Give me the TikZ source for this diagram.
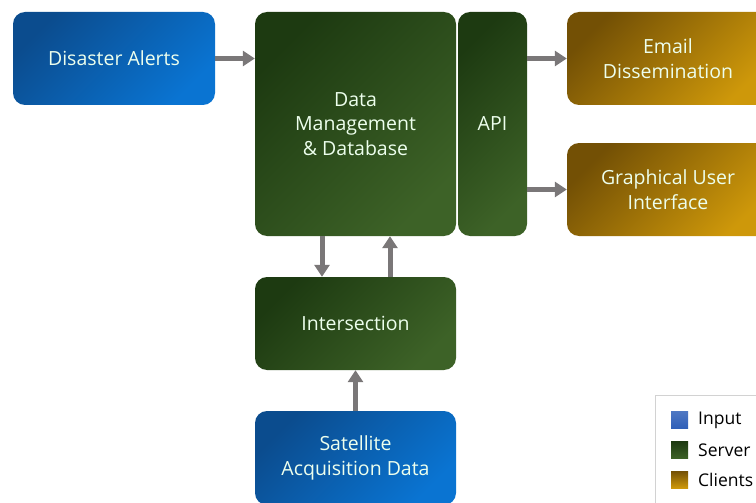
\documentclass[tikz,border=0pt]{standalone}
\usepackage{fontspec}
\setmainfont{Open Sans}
\usetikzlibrary{arrows.meta}

\definecolor{inDark}{HTML}{0B4C8E}
\definecolor{inLight}{HTML}{0A74D2}
\definecolor{srvDark}{HTML}{1D3A11}
\definecolor{srvLight}{HTML}{3D6227}
\definecolor{cliDark}{HTML}{735005}
\definecolor{cliLight}{HTML}{CE980A}
\definecolor{arrowgray}{HTML}{7A7778}
\definecolor{legBlue}{HTML}{2F5FB8}

\begin{document}
\begin{tikzpicture}[x=1pt, y=1pt,
    box/.style={rectangle, rounded corners=12pt, text=white!93!green, align=center,
        font=\fontsize{19.5}{24.5}\selectfont},
    input/.style={box, top color=inDark, bottom color=inLight, shading angle=45},
    server/.style={box, top color=srvDark, bottom color=srvLight, shading angle=45},
    client/.style={box, top color=cliDark, bottom color=cliLight, shading angle=45},
    flow/.style={arrowgray, line width=5pt, -{Triangle[length=12pt, width=15pt]}},
    swatch/.style={minimum size=17pt, inner sep=0pt},
    legtext/.style={anchor=west, font=\fontsize{17.5}{20}\selectfont, inner sep=0pt}]
            \useasboundingbox (0,0) rectangle (756,-503);

            \node[input, minimum width=202pt, minimum height=93pt] (alerts) at (114,-58.5) {Disaster Alerts};
            \node[server, minimum width=201pt, minimum height=224pt] (dm) at (355.5,-124) {Data\\Management\\\& Database};
            \node[server, minimum width=69pt, minimum height=224pt] (api) at (492.5,-124) {API};
            \node[client, minimum width=202pt, minimum height=93pt] (email) at (668,-58.5) {Email\\Dissemination};
            \node[client, minimum width=202pt, minimum height=93pt] (gui) at (668,-189.5) {Graphical User\\Interface};
            \node[server, minimum width=201pt, minimum height=93pt] (inter) at (355.5,-323.5) {Intersection};
            \node[input, minimum width=201pt, minimum height=94pt] (sat) at (355.5,-458) {Satellite\\Acquisition Data};

            \draw[flow] (alerts.east) -- (alerts.east -| dm.west);
            \draw[flow] (api.east |- email) -- (email.west);
            \draw[flow] (api.east |- gui) -- (gui.west);
            \draw[flow] ([xshift=-33.5pt]dm.south) -- ([xshift=-33.5pt]inter.north);
            \draw[flow] ([xshift=34.5pt]inter.north) -- ([xshift=34.5pt]dm.south);
            \draw[flow] (sat.north) -- (inter.south);

            % legend
            \node[draw=gray!35, line width=1pt, minimum width=110pt, minimum height=115pt, anchor=north west] (legend) at (655,-395) {};
            \node[swatch, top color=legBlue!85!white, bottom color=legBlue] (swIn) at (679.5,-420) {};
            \node[swatch, top color=srvDark, bottom color=srvLight] (swSrv) at (679.5,-450) {};
            \node[swatch, top color=cliDark, bottom color=cliLight] (swCli) at (679.5,-479.5) {};
            \node[legtext] (lIn) at (698,-420) {Input};
            \node[legtext] (lSrv) at (698,-450) {Server};
            \node[legtext] (lCli) at (698,-479.5) {Clients};
        \end{tikzpicture}
\end{document}
